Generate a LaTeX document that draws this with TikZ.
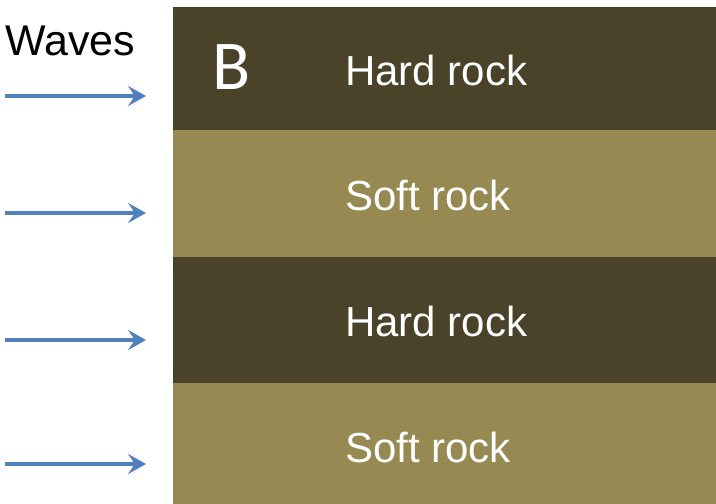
\documentclass[tikz,border=0pt]{standalone}
\usepackage{fontspec}
\setmainfont{Liberation Sans}
\newfontfamily\calib{Carlito}
\usetikzlibrary{arrows.meta}
\definecolor{hardc}{RGB}{74,67,42}
\definecolor{softc}{RGB}{150,138,82}
\definecolor{wavec}{RGB}{79,129,189}
\tikzset{
  layer/.style={draw=none, inner sep=0pt, anchor=north west, minimum width=543pt},
  rocklabel/.style={text=white, font=\fontsize{42}{42}\selectfont, anchor=west, inner sep=0pt},
  wave/.style={draw=wavec, line width=3.5pt, -{Stealth[length=18pt,width=20pt,inset=7pt]}}
}
\begin{document}
\begin{tikzpicture}[x=1pt,y=-1pt]
\useasboundingbox (0,0) rectangle (716,504);
\node[layer, fill=hardc, minimum height=123pt] (L1) at (173,7) {};
\node[layer, fill=softc, minimum height=127pt] (L2) at (173,130) {};
\node[layer, fill=hardc, minimum height=126pt] (L3) at (173,257) {};
\node[layer, fill=softc, minimum height=121pt] (L4) at (173,383) {};
\node[rocklabel] (t1) at (345,70) {Hard rock};
\node[rocklabel] (t2) at (345,195) {Soft rock};
\node[rocklabel] (t3) at (345,321) {Hard rock};
\node[rocklabel] (t4) at (345,447) {Soft rock};
\node[text=white, font=\calib\fontsize{70}{70}\selectfont, inner sep=0pt] (B) at (232,67) {B};
\node[font=\fontsize{43}{43}\selectfont, anchor=west, inner sep=0pt] (W) at (5,41) {Waves};
\coordinate (a1s) at (5,96);  \coordinate (a1e) at (146,96);
\coordinate (a2s) at (5,213); \coordinate (a2e) at (146,213);
\coordinate (a3s) at (5,340); \coordinate (a3e) at (146,340);
\coordinate (a4s) at (5,464); \coordinate (a4e) at (146,464);
\draw[wave] (a1s) -- (a1e);
\draw[wave] (a2s) -- (a2e);
\draw[wave] (a3s) -- (a3e);
\draw[wave] (a4s) -- (a4e);
\end{tikzpicture}
\end{document}
